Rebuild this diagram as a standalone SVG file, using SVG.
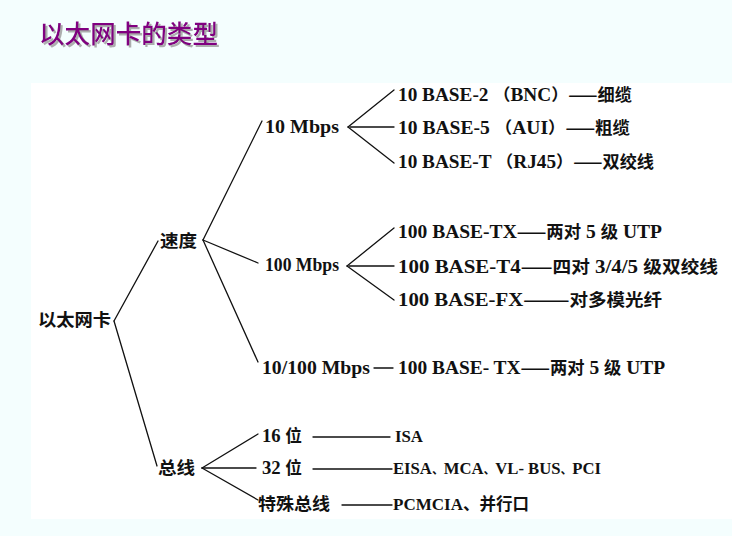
<svg xmlns="http://www.w3.org/2000/svg" width="732" height="536" viewBox="0 0 732 536">
  <defs>
    <style>
      .title { font-family: "Noto Sans CJK SC", sans-serif; font-size: 25.5px; font-weight: 500; fill: #800080; }
      .t { font-family: "Liberation Serif", "Noto Sans CJK SC", serif; font-size: 18.5px; font-weight: bold; fill: #111; }
      .s { font-size: 17px; }
      .z { font-family: "Noto Sans CJK SC", sans-serif; font-size: 16.5px; }
      .k { font-family: "Noto Sans CJK SC", sans-serif; font-size: 12px; }
      .c { font-family: "Noto Sans CJK SC", "Liberation Serif", sans-serif; font-size: 17.5px; font-weight: bold; fill: #111; }
      .edge { stroke: #111; stroke-width: 1.3; fill: none; stroke-linecap: round; }
    </style>
    <filter id="shadow" x="-5%" y="-20%" width="115%" height="150%">
      <feDropShadow dx="2" dy="2" stdDeviation="0.6" flood-color="#9a9a9a" flood-opacity="0.8"/>
    </filter>
  </defs>

  <!-- page background and scanned sheet -->
  <rect x="0" y="0" width="732" height="536" fill="#f4fefe"/>
  <rect x="31" y="83" width="701" height="436" fill="#ffffff"/>

  <!-- heading -->
  <g id="heading">
    <text class="title" x="39" y="43" textLength="179" lengthAdjust="spacingAndGlyphs" filter="url(#shadow)">以太网卡的类型</text>
  </g>

  <!-- connectors -->
  <g id="connectors" class="edge">
    <line x1="114" y1="321" x2="158" y2="241"/>
    <line x1="114" y1="321" x2="157" y2="466"/>
    <line x1="203" y1="240" x2="262" y2="121"/>
    <line x1="203" y1="240" x2="258" y2="263"/>
    <line x1="203" y1="240" x2="258" y2="362"/>
    <line x1="348" y1="127" x2="394" y2="90"/>
    <line x1="350" y1="127" x2="394" y2="127"/>
    <line x1="348" y1="127" x2="394" y2="163"/>
    <line x1="347" y1="266" x2="394" y2="228"/>
    <line x1="349" y1="266" x2="394" y2="266"/>
    <line x1="347" y1="266" x2="394" y2="300"/>
    <line x1="374" y1="368" x2="393" y2="368"/>
    <line x1="202" y1="468" x2="258" y2="434"/>
    <line x1="202" y1="468" x2="256" y2="468"/>
    <line x1="202" y1="468" x2="258" y2="500"/>
    <line x1="313" y1="437" x2="390" y2="437"/>
    <line x1="313" y1="469" x2="392" y2="469"/>
    <line x1="342" y1="505" x2="392" y2="505"/>
  </g>

  <g id="root"><text class="c" x="38" y="326" textLength="73" lengthAdjust="spacingAndGlyphs">以太网卡</text></g>
  <g id="speed"><text class="c" x="160" y="247" textLength="37" lengthAdjust="spacingAndGlyphs">速度</text></g>
  <g id="bus"><text class="c" x="158" y="474" textLength="37" lengthAdjust="spacingAndGlyphs">总线</text></g>

  <g id="m10"><text class="t" x="265" y="133" textLength="74" lengthAdjust="spacingAndGlyphs">10 Mbps</text></g>
  <g id="m100"><text class="t" x="265" y="271" textLength="74" lengthAdjust="spacingAndGlyphs">100 Mbps</text></g>
  <g id="m10-100"><text class="t" x="262" y="374" textLength="108" lengthAdjust="spacingAndGlyphs">10/100 Mbps</text></g>

  <g id="base2"><text class="t" x="398" y="101" textLength="234" lengthAdjust="spacingAndGlyphs">10 BASE-2 <tspan class="z">（</tspan>BNC<tspan class="z">）——细缆</tspan></text></g>
  <g id="base5"><text class="t" x="398" y="134" textLength="232" lengthAdjust="spacingAndGlyphs">10 BASE-5 <tspan class="z">（</tspan>AUI<tspan class="z">）——粗缆</tspan></text></g>
  <g id="baseT"><text class="t" x="398" y="168" textLength="256" lengthAdjust="spacingAndGlyphs">10 BASE-T <tspan class="z">（</tspan>RJ45<tspan class="z">）——双绞线</tspan></text></g>

  <g id="tx"><text class="t" x="398" y="238" textLength="264" lengthAdjust="spacingAndGlyphs">100 BASE-TX<tspan class="z">——两对</tspan> 5 <tspan class="z">级</tspan> UTP</text></g>
  <g id="t4"><text class="t" x="398" y="273" textLength="320" lengthAdjust="spacingAndGlyphs">100 BASE-T4<tspan class="z">——四对</tspan> 3/4/5 <tspan class="z">级双绞线</tspan></text></g>
  <g id="fx"><text class="t" x="398" y="306" textLength="264" lengthAdjust="spacingAndGlyphs">100 BASE-FX<tspan class="z">———对多模光纤</tspan></text></g>
  <g id="tx2"><text class="t" x="398" y="374" textLength="267" lengthAdjust="spacingAndGlyphs">100 BASE- TX<tspan class="z">——两对</tspan> 5 <tspan class="z">级</tspan> UTP</text></g>

  <g id="b16"><text class="t" x="262" y="442" textLength="40" lengthAdjust="spacingAndGlyphs">16 <tspan class="z">位</tspan></text></g>
  <g id="b32"><text class="t" x="262" y="474" textLength="40" lengthAdjust="spacingAndGlyphs">32 <tspan class="z">位</tspan></text></g>
  <g id="bspecial"><text class="c" x="258" y="510" textLength="72" lengthAdjust="spacingAndGlyphs">特殊总线</text></g>
  <g id="isa"><text class="t s" x="395" y="442" textLength="28" lengthAdjust="spacingAndGlyphs">ISA</text></g>
  <g id="eisa"><text class="t s" x="393" y="474" textLength="208" lengthAdjust="spacingAndGlyphs">EISA<tspan class="k">、</tspan>MCA<tspan class="k">、</tspan>VL- BUS<tspan class="k">、</tspan>PCI</text></g>
  <g id="pcmcia"><text class="t s" x="393" y="510" textLength="136" lengthAdjust="spacingAndGlyphs">PCMCIA<tspan class="z">、并行口</tspan></text></g>
</svg>
